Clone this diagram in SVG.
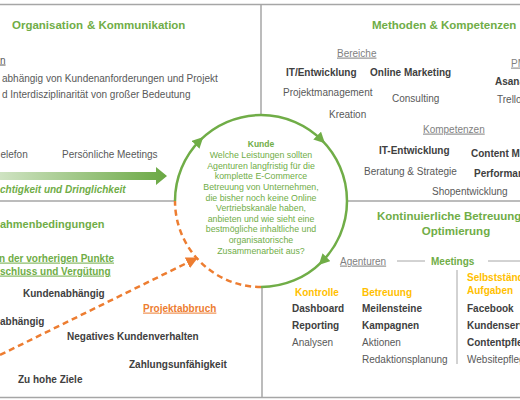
<svg xmlns="http://www.w3.org/2000/svg" width="520" height="400" viewBox="0 0 520 400">
<style>
text{font-family:"Liberation Sans",Arial,sans-serif;font-size:10px}
.t{font-size:11.5px;font-weight:bold;fill:#70AD47}
.g{fill:#70AD47}
.b{font-weight:bold;fill:#404040}
.r{fill:#595959}
.h{fill:#7F7F7F;text-decoration:underline}
.o{fill:#ED7D31}
.y{fill:#FFC000;font-weight:bold}
.u{text-decoration:underline}
.c{font-size:8.8px;fill:#70AD47;text-anchor:middle}
.ln{stroke:#A6A6A6;stroke-width:1.5;fill:none}
.ln1{stroke:#A6A6A6;stroke-width:1;fill:none}
.arc{stroke:#70AD47;stroke-width:2.5;fill:none}
</style>
<defs>
<marker id="ga" viewBox="0 0 10 10" refX="6" refY="5" markerWidth="11" markerHeight="11" markerUnits="userSpaceOnUse" orient="auto"><path d="M0,0 L10,5 L0,10 z" fill="#70AD47"/></marker>
<marker id="oa" viewBox="0 0 10 10" refX="9" refY="5" markerWidth="12" markerHeight="12" markerUnits="userSpaceOnUse" orient="auto"><path d="M0,0 L10,5 L0,10 z" fill="#ED7D31"/></marker>
<linearGradient id="grad" gradientUnits="userSpaceOnUse" x1="-80" y1="0" x2="167" y2="0"><stop offset="0" stop-color="#ffffff"/><stop offset="1" stop-color="#6AA843"/></linearGradient>
</defs>

<g id="frame">
<line class="ln" x1="0" y1="4.5" x2="520" y2="4.5"/>
<line class="ln" x1="0" y1="397.5" x2="520" y2="397.5"/>
<line class="ln" x1="261" y1="4.5" x2="261" y2="115"/>
<line class="ln" x1="262" y1="287" x2="262" y2="397.5"/>
<line class="ln" x1="0" y1="201" x2="175" y2="201"/>
<line class="ln" x1="347" y1="201" x2="520" y2="201"/>
</g>

<g id="connectors">
<path class="arc" d="M175,201 A86,86 0 0 1 200.19,140.19" marker-end="url(#ga)"/>
<path class="arc" d="M200.19,140.19 A86,86 0 0 1 321.81,140.19" marker-end="url(#ga)"/>
<path class="arc" d="M321.81,140.19 A86,86 0 0 1 321.81,261.81" marker-end="url(#ga)"/>
<path class="arc" d="M321.81,261.81 A86,86 0 0 1 261,287"/>
<path d="M261,287 A86,86 0 0 1 175,201" fill="none" stroke="#ED7D31" stroke-width="2.5" stroke-dasharray="6,4"/>
<line x1="0" y1="355" x2="197" y2="258" stroke="#ED7D31" stroke-width="2.5" stroke-dasharray="6,4" marker-end="url(#oa)"/>
<polygon points="0,172 156,172 156,167 167,176 156,185 156,180 0,180" fill="url(#grad)"/>
<line class="ln1" x1="397" y1="261" x2="425" y2="261"/>
<line class="ln1" x1="488" y1="261" x2="520" y2="261"/>
<line class="ln1" x1="457" y1="270" x2="457" y2="364"/>
</g>

<g id="kunde">
<text class="c" x="261" y="147" style="font-weight:bold;font-size:8.5px">Kunde</text>
<text class="c" x="261" y="158.2">Welche Leistungen sollten</text>
<text class="c" x="261" y="168.8">Agenturen langfristig für die</text>
<text class="c" x="261" y="179.4">komplette E-Commerce</text>
<text class="c" x="261" y="190">Betreuung von Unternehmen,</text>
<text class="c" x="261" y="200.6">die bisher noch keine Online</text>
<text class="c" x="261" y="211.2">Vertriebskanäle haben,</text>
<text class="c" x="261" y="221.8">anbieten und wie sieht eine</text>
<text class="c" x="261" y="232.4">bestmögliche inhaltliche und</text>
<text class="c" x="261" y="243">organisatorische</text>
<text class="c" x="261" y="253.6">Zusammenarbeit aus?</text>
</g>

<g id="organisation">
<text class="t" x="12" y="29">Organisation<tspan x="87">&amp; Kommunikation</tspan></text>
<text class="r u" x="0" y="63.5">n</text>
<text class="r" x="2" y="81.6">abhängig von Kundenanforderungen und Projekt</text>
<text class="r" x="2" y="97.6">d Interdisziplinarität von großer Bedeutung</text>
<text class="r" x="0.5" y="157.6">elefon</text>
<text class="r" x="62" y="157.6">Persönliche Meetings</text>
<text class="g" x="0" y="192.6" style="font-weight:bold;font-style:italic">chtigkeit und Dringlichkeit</text>
</g>

<g id="rahmen">
<text class="t" x="0" y="228" style="font-size:11px">ahmenbedingungen</text>
<text class="g u" x="-1" y="261.6" style="font-weight:bold">n der vorherigen Punkte</text>
<text class="g u" x="0" y="274.6" style="font-weight:bold">schluss und Vergütung</text>
<text class="b" x="23" y="296.6">Kundenabhängig</text>
<text class="b" x="0" y="324.6">abhängig</text>
<text class="o u" x="143" y="311.6" style="font-weight:bold">Projektabbruch</text>
<text class="b" x="67" y="339.6">Negatives Kundenverhalten</text>
<text class="b" x="129" y="367.6">Zahlungsunfähigkeit</text>
<text class="b" x="18" y="382.6">Zu hohe Ziele</text>
</g>

<g id="methoden">
<text class="t" x="372" y="29">Methoden &amp; Kompetenzen</text>
<text class="h" x="337" y="56.6">Bereiche</text>
<text class="b" x="286" y="75.6">IT/Entwicklung</text>
<text class="b" x="370" y="75.6">Online Marketing</text>
<text class="h" x="511" y="66.6">PM</text>
<text class="b" x="495" y="84.6">Asana</text>
<text class="r" x="283" y="95.6">Projektmanagement</text>
<text class="r" x="392" y="101.6">Consulting</text>
<text class="r" x="497" y="103">Trello</text>
<text class="r" x="329" y="117.6">Kreation</text>
<text class="h" x="423" y="132.6">Kompetenzen</text>
<text class="b" x="379" y="153.6">IT-Entwicklung</text>
<text class="b" x="471" y="156.6">Content Marketing</text>
<text class="r" x="364" y="174.6">Beratung &amp; Strategie</text>
<text class="b" x="474" y="176.6">Performance Marketing</text>
<text class="r" x="432" y="194.6">Shopentwicklung</text>
</g>

<g id="betreuung">
<text class="t" x="377" y="220">Kontinuierliche Betreuung &amp;</text>
<text class="t" x="456" y="235" text-anchor="middle">Optimierung</text>
<text class="h" x="340" y="264.6">Agenturen</text>
<text class="g" x="431" y="264.6" style="font-weight:bold">Meetings</text>
<text class="y" x="467" y="280.6">Selbstständige</text>
<text class="y" x="467" y="293.6">Aufgaben</text>
<text class="y" x="295" y="295.6">Kontrolle</text>
<text class="y" x="362" y="295.6">Betreuung</text>
<text class="b" x="292" y="311.6">Dashboard</text>
<text class="b" x="362" y="311.6">Meilensteine</text>
<text class="b" x="467" y="311.6">Facebook</text>
<text class="b" x="292" y="328.6">Reporting</text>
<text class="b" x="362" y="328.6">Kampagnen</text>
<text class="b" x="467" y="328.6">Kundenservice</text>
<text class="r" x="292" y="345.6">Analysen</text>
<text class="r" x="362" y="345.6">Aktionen</text>
<text class="b" x="467" y="345.6">Contentpflege</text>
<text class="r" x="362" y="362.6">Redaktionsplanung</text>
<text class="r" x="467" y="362.6">Websitepflege</text>
</g>
</svg>
